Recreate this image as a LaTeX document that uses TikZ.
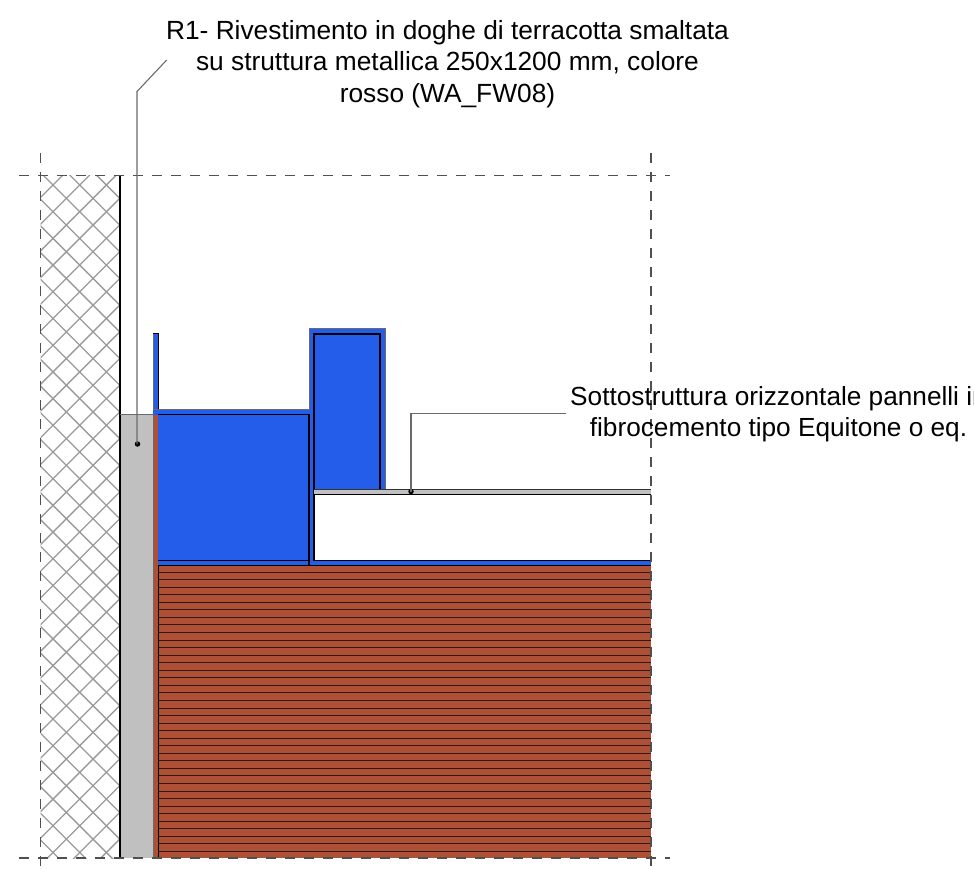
\documentclass[tikz,border=0pt]{standalone}
\usepackage{fontspec}
\setmainfont{Liberation Sans}
\definecolor{blu}{HTML}{245DEA}
\definecolor{brik}{HTML}{AD5035}
\definecolor{grayc}{HTML}{C0C0C0}
\definecolor{hatchc}{HTML}{9A9A9A}
\definecolor{dashc}{HTML}{505050}
\definecolor{leadc}{HTML}{6A6A6A}
\tikzset{
  cut/.style={draw=black,line width=1.5pt},
  bluefill/.style={fill=blu},
  outl/.style={draw=leadc,line width=0.9pt},
  axisline/.style={draw=dashc,line width=1.3pt,dash pattern=on 10pt off 9pt},
  leader/.style={draw=leadc,line width=1.1pt},
  lab/.style={font=\fontsize{26.3}{31.3}\selectfont,align=center,inner sep=0pt,text=black},
  labb/.style={font=\fontsize{26.2}{31.3}\selectfont,align=center,inner sep=0pt,text=black},
  dot/.style={circle,fill=black,inner sep=0pt,minimum size=5.5pt}
}
\begin{document}
\begin{tikzpicture}[x=1pt,y=-1pt]
\useasboundingbox (0,0) rectangle (974,869);
\clip (0,0) rectangle (974,869);
% hatched wall
\begin{scope}
\clip (40.5,175.5) rectangle (120,858);
\foreach \k in {-1,...,29}{
  \draw[hatchc,line width=1.3pt] (238+26.7*\k,0) -- (238+26.7*\k-900,900);
}
\foreach \k in {-27,...,4}{
  \draw[hatchc,line width=1.3pt] (-132+26.7*\k,0) -- (-132+26.7*\k+900,900);
}
\end{scope}
\draw[black,line width=1.6pt] (120,175.5) -- (120,858);
% grey layer
\fill[grayc] (120.8,414) rectangle (153.5,858);
\draw[leadc,line width=0.9pt] (120,414) -- (153.5,414);
% brick
\fill[brik] (153.5,414) rectangle (158,858);
\fill[brik] (158,565) rectangle (651,858);
\foreach \k in {0,...,37}{
  \pgfmathsetmacro{\yy}{round(571.6+7.55*\k)+0.5}
  \draw[black!70!brik,line width=1.4pt] (158,\yy) -- (651,\yy);
}
\draw[leadc,line width=0.7pt] (153.5,414) -- (153.5,858);
\draw[cut] (158.3,414) -- (158.3,858);
% blue
\fill[bluefill] (153.3,333.5) rectangle (158.3,409);
\fill[bluefill] (153.3,409) rectangle (309,414.5);
\fill[bluefill] (158.3,414.5) rectangle (309,560.5);
\fill[bluefill] (309,328.7) rectangle (385,490);
\fill[bluefill] (309,490) rectangle (314,565.5);
\fill[bluefill] (158.3,560.5) rectangle (651,565.5);
\draw[outl] (153.3,409) -- (153.3,333.5);
\draw[cut] (153.3,333.5) -- (158.3,333.5) -- (158.3,409);
\draw[outl] (153.3,409) -- (309,409) -- (309,328.7) -- (385,328.7) -- (385,490);
\draw[cut] (314,490) -- (314,334) -- (380,334) -- (380,490);
\draw[cut] (158.3,414.5) -- (309,414.5) -- (309,565.5);
\draw[cut] (158.3,560.5) -- (309,560.5);
\draw[cut] (314,560.5) -- (651,560.5);
\draw[cut] (158.3,565.5) -- (651,565.5);
\draw[cut] (314,489) -- (314,560.5);
% panel
\fill[grayc] (314,490) rectangle (651,494.5);
\draw[cut] (314,494.7) -- (651,494.7);
\draw[draw=black!80,line width=1.2pt] (314,489.7) -- (651,489.7);
% axes
\draw[axisline,dash phase=-1pt] (18,175.5) -- (670,175.5);
\draw[axisline,dash phase=-1pt] (18,858) -- (670,858);
\draw[axisline] (40.5,153) -- (40.5,868);
\draw[axisline] (651,153) -- (651,868);
% labels and leaders
\node[lab] (t1) at (447.5,64) {R1- Rivestimento in doghe di terracotta smaltata\\su struttura metallica 250x1200 mm, colore\\rosso (WA\_FW08)};
\node[dot] (d1) at (137.5,444) {};
\coordinate (k1) at (137,91.5);
\coordinate (e1) at (166.7,60);
\draw[leader] (e1) -- (k1) -- (k1 |- d1);
\node[labb] (t2) at (778.5,414.5) {Sottostruttura orizzontale pannelli in\\fibrocemento tipo Equitone o eq.};
\node[dot] (d2) at (411,491.5) {};
\coordinate (k2) at (411,413.5);
\coordinate (e2) at (565.5,413.5);
\draw[leader] (e2) -- (k2) -- (d2.center);
\end{tikzpicture}
\end{document}
